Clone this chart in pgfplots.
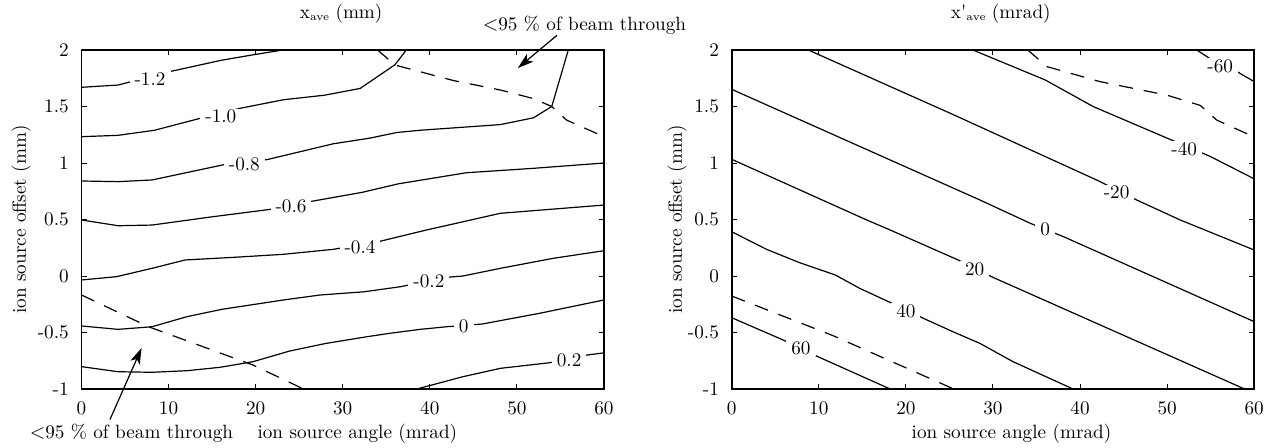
\documentclass[border=0pt]{standalone}
\usepackage{pgfplots}
\pgfplotsset{compat=1.18}
\usetikzlibrary{arrows.meta}
\begin{document}
\fontsize{9.6}{11.5}\selectfont
\begin{tikzpicture}
\useasboundingbox (0,0) rectangle (634pt,223.5pt);
\pgfplotsset{
  cont/.style={black, line width=0.6pt, no marks},
  bnd/.style={black, line width=0.6pt, no marks, dash pattern=on 7pt off 5.5pt},
  base/.style={
    scale only axis, width=261.25pt, height=169.5pt,
    anchor=south west,
    xmin=0, xmax=60, ymin=-1, ymax=2,
    xtick={0,10,20,30,40,50,60},
    ytick={-1,-0.5,0,0.5,1,1.5,2},
    yticklabels={-1,-0.5,0,0.5,1,1.5,2},
    xticklabels={0,10,20,30,40,50,60},
    major tick length=2.5pt,
    tick style={black, line width=0.5pt},
    axis line style={line width=0.8pt},
    xticklabel style={yshift=-3pt},
    yticklabel style={xshift=-3pt},
    clip mode=individual,
    xlabel={ion source angle (mrad)},
    ylabel={ion source offset (mm)},
    title style={anchor=base, yshift=10pt},
  }
}
\tikzset{lab/.style={fill=white, inner xsep=2.5pt, inner ysep=0.5pt},
  arr/.style={-{Stealth[length=8pt,width=5pt,inset=2pt]}, line width=0.6pt}}

% ---------------- left panel ----------------
\begin{axis}[base, at={(40.75pt,29pt)},
  xlabel style={at={(axis description cs:0.528,0)}, anchor=base, yshift=-24.5pt},
  ylabel style={at={(axis description cs:-0.1158,0.5)}, anchor=center},
  title style={at={(axis description cs:0.497,1)}},
  title={x\raisebox{-1pt}{\fontsize{5.5}{6}\selectfont ave} (mm)}]
\addplot[cont] coordinates {(0,1.67) (4.2,1.69) (10.2,1.81) (16.1,1.91) (19.9,1.96) (23.1,2.0)};
\addplot[cont] coordinates {(0,1.233) (4.2,1.245) (8.4,1.29) (13.6,1.395) (18.2,1.484) (23.2,1.56) (27.9,1.60) (32.0,1.66) (36.0,1.87) (37.3,2.0)};
\addplot[cont] coordinates {(0,0.841) (4.2,0.835) (8.1,0.85) (16.7,0.991) (21.3,1.03) (25.1,1.10) (28.9,1.17) (33.1,1.22) (36.2,1.27) (38.9,1.29) (48.1,1.34) (51.9,1.40) (54.0,1.50) (55.9,2.0)};
\addplot[cont] coordinates {(0,0.496) (4.2,0.445) (8.1,0.451) (15.1,0.525) (22,0.593) (26.2,0.658) (32.2,0.74) (36.4,0.816) (44.2,0.914) (51.9,0.953) (60,1.0)};
\addplot[cont] coordinates {(0,-0.035) (4.0,-0.006) (8.1,0.068) (11.9,0.142) (17.4,0.165) (23.2,0.192) (28.9,0.236) (34.1,0.304) (39.6,0.407) (44.2,0.487) (48.1,0.555) (60,0.628)};
\addplot[cont] coordinates {(0,-0.442) (4.2,-0.472) (8.1,-0.449) (12.1,-0.36) (16.1,-0.295) (23.2,-0.212) (27.4,-0.168) (32.4,-0.14) (36.6,-0.095) (41.9,-0.012) (43.8,0.0) (48.1,0.068) (54.2,0.157) (60,0.224)};
\addplot[cont] coordinates {(0,-0.802) (4.2,-0.847) (8.1,-0.852) (12.1,-0.838) (15.9,-0.808) (19.7,-0.758) (23.9,-0.664) (28.1,-0.596) (32.8,-0.537) (35.4,-0.507) (38.9,-0.472) (41.9,-0.449) (46,-0.425) (52.6,-0.33) (60,-0.212)};
\addplot[cont] coordinates {(38.5,-1.0) (43.8,-0.891) (48.1,-0.817) (53.8,-0.767) (58,-0.70) (60,-0.68)};
\addplot[bnd] coordinates {(34.0,2.0) (36.0,1.867) (42.7,1.73) (48.1,1.646) (51.9,1.57) (54.0,1.50) (55.7,1.38) (60,1.233)};
\addplot[bnd] coordinates {(0,-0.168) (7.7,-0.449) (19.7,-0.788) (25.5,-1.0)};
\node[lab] at (axis cs:7.87,1.745) {-1.2};
\node[lab] at (axis cs:16.0,1.41) {-1.0};
\node[lab] at (axis cs:18.7,0.99) {-0.8};
\node[lab] at (axis cs:24.06,0.613) {-0.6};
\node[lab] at (axis cs:31.98,0.257) {-0.4};
\node[lab] at (axis cs:39.9,-0.05) {-0.2};
\node[lab] at (axis cs:43.9,-0.449) {0};
\node[lab] at (axis cs:56.0,-0.75) {0.2};
\node[anchor=base] at (axis cs:57.76,2.177) {$<$95 \% of beam through};
\draw[arr] (axis cs:54.6,2.13) -- (axis cs:50.1,1.84);
\node[anchor=base] at (axis cs:5.74,-1.434) {$<$95 \% of beam through};
\draw[arr] (axis cs:3.27,-1.27) -- (axis cs:6.9,-0.637);
\end{axis}

% ---------------- right panel ----------------
\begin{axis}[base, at={(365.85pt,29pt)},
  xlabel style={at={(axis description cs:0.5355,0)}, anchor=base, yshift=-24.5pt},
  ylabel style={at={(axis description cs:-0.1045,0.5)}, anchor=center},
  title style={at={(axis description cs:0.515,1)}},
  title={x\textquotesingle\raisebox{-1pt}{\fontsize{5.5}{6}\selectfont ave} (mrad)}]
\addplot[cont] coordinates {(53.4,2.0) (56,1.87) (58,1.81) (60,1.72)};
\addplot[cont] coordinates {(27.7,2.0) (36,1.735) (41.5,1.50) (50,1.22) (54.9,1.06) (60,0.86)};
\addplot[cont] coordinates {(8.8,2.0) (25.1,1.44) (41.9,0.85) (46.5,0.673) (51.5,0.496) (60,0.23)};
\addplot[cont] coordinates {(0,1.652) (28.5,0.673) (34.3,0.466) (38.1,0.348) (60,-0.404)};
\addplot[cont] coordinates {(0,1.033) (15.5,0.496) (18.2,0.407) (26.0,0.142) (30.0,-0.012) (58.9,-1.0)};
\addplot[cont] coordinates {(0,0.392) (4.0,0.236) (7.8,0.118) (11.9,0.009) (14.7,-0.109) (18.0,-0.227) (22.0,-0.374) (25.4,-0.493) (28.5,-0.596) (32.3,-0.758) (39.2,-1.0)};
\addplot[cont] coordinates {(0,-0.369) (5.9,-0.566) (9.9,-0.714) (18.2,-1.0)};
\addplot[bnd] coordinates {(34.0,2.0) (36.2,1.853) (42.3,1.72) (50,1.60) (53.8,1.51) (55.7,1.38) (60,1.23)};
\addplot[bnd] coordinates {(0,-0.177) (11.7,-0.53) (25.5,-1.0)};
\node[lab] at (axis cs:56.1,1.86) {-60};
\node[lab] at (axis cs:51.97,1.126) {-40};
\node[lab] at (axis cs:44.2,0.739) {-20};
\node[lab] at (axis cs:36.0,0.41) {0};
\node[lab] at (axis cs:27.9,0.062) {20};
\node[lab] at (axis cs:20.0,-0.308) {40};
\node[lab] at (axis cs:7.95,-0.64) {60};
\end{axis}
\end{tikzpicture}
\end{document}
